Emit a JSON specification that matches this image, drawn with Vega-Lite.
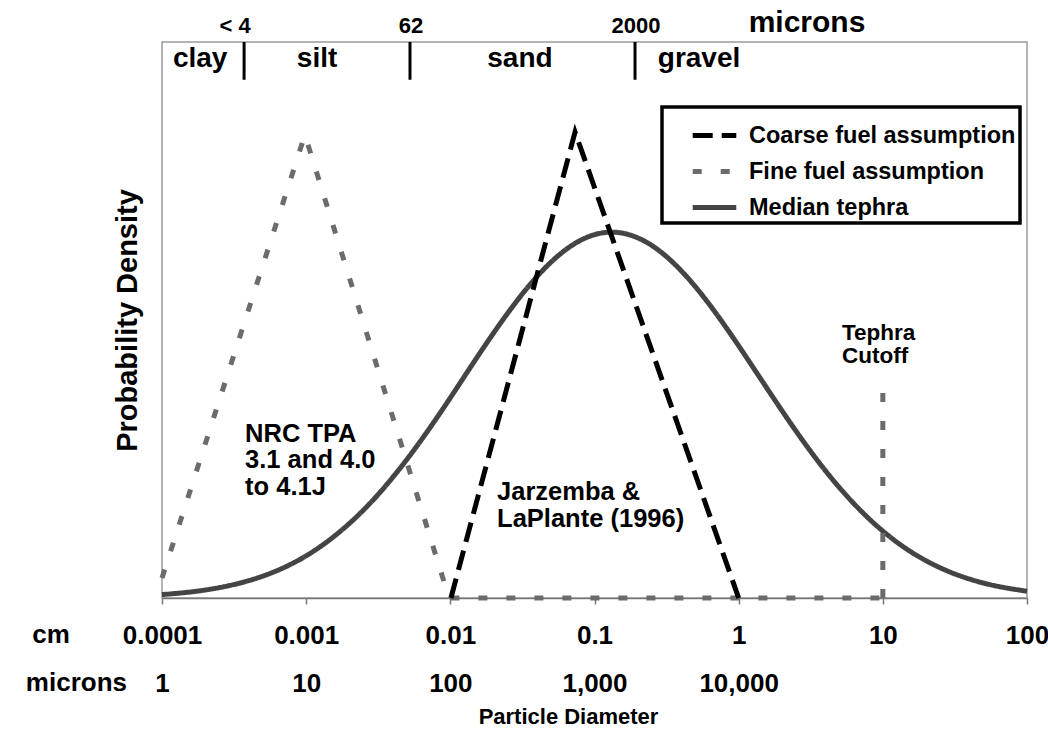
{
  "$schema": "https://vega.github.io/schema/vega-lite/v6.json",
  "width": 865,
  "height": 556,
  "autosize": "none",
  "padding": {"left": 162, "top": 42, "right": 21, "bottom": 133},
  "background": "white",
  "config": {
    "view": {"stroke": "#9a9a9a", "strokeWidth": 1.5},
    "font": "Liberation Sans",
    "legend": {"strokeWidth": 3.5}
  },
  "datasets": {
    "tephra": [
      {"series": "Median tephra", "cm": 0.0001, "density": 0.61},
      {"series": "Median tephra", "cm": 0.000158, "density": 1.09},
      {"series": "Median tephra", "cm": 0.000251, "density": 1.88},
      {"series": "Median tephra", "cm": 0.000398, "density": 3.11},
      {"series": "Median tephra", "cm": 0.000631, "density": 4.95},
      {"series": "Median tephra", "cm": 0.001, "density": 7.59},
      {"series": "Median tephra", "cm": 0.00158, "density": 11.19},
      {"series": "Median tephra", "cm": 0.00251, "density": 15.88},
      {"series": "Median tephra", "cm": 0.00398, "density": 21.68},
      {"series": "Median tephra", "cm": 0.00631, "density": 28.48},
      {"series": "Median tephra", "cm": 0.01, "density": 36.01},
      {"series": "Median tephra", "cm": 0.0158, "density": 43.81},
      {"series": "Median tephra", "cm": 0.0251, "density": 51.29},
      {"series": "Median tephra", "cm": 0.0398, "density": 57.78},
      {"series": "Median tephra", "cm": 0.0631, "density": 62.64},
      {"series": "Median tephra", "cm": 0.1, "density": 65.35},
      {"series": "Median tephra", "cm": 0.158, "density": 65.6},
      {"series": "Median tephra", "cm": 0.251, "density": 63.37},
      {"series": "Median tephra", "cm": 0.398, "density": 58.9},
      {"series": "Median tephra", "cm": 0.631, "density": 52.69},
      {"series": "Median tephra", "cm": 1.0, "density": 45.36},
      {"series": "Median tephra", "cm": 1.585, "density": 37.57},
      {"series": "Median tephra", "cm": 2.512, "density": 29.94},
      {"series": "Median tephra", "cm": 3.981, "density": 22.96},
      {"series": "Median tephra", "cm": 6.31, "density": 16.95},
      {"series": "Median tephra", "cm": 10, "density": 12.04},
      {"series": "Median tephra", "cm": 15.85, "density": 8.22},
      {"series": "Median tephra", "cm": 25.12, "density": 5.41},
      {"series": "Median tephra", "cm": 39.81, "density": 3.42},
      {"series": "Median tephra", "cm": 63.1, "density": 2.09},
      {"series": "Median tephra", "cm": 100, "density": 1.22}
    ],
    "triangles": [
      {"series": "Fine fuel assumption", "cm": 0.0001, "density": 3.6},
      {"series": "Fine fuel assumption", "cm": 0.00098, "density": 83.3},
      {"series": "Fine fuel assumption", "cm": 0.0098, "density": 0},
      {"series": "Fine fuel assumption", "cm": 10, "density": 0},
      {"series": "Coarse fuel assumption", "cm": 0.0101, "density": 0},
      {"series": "Coarse fuel assumption", "cm": 0.0733, "density": 83.8},
      {"series": "Coarse fuel assumption", "cm": 1.0, "density": 0}
    ],
    "cutoff": [
      {"cm": 10, "density": 0},
      {"cm": 10, "density": 38.8}
    ],
    "bounds": [
      {"cm": 0.000371, "lo": 93.2, "hi": 100},
      {"cm": 0.00525, "lo": 93.2, "hi": 100},
      {"cm": 0.191, "lo": 93.2, "hi": 100}
    ],
    "classes": [
      {"label": "clay", "cm": 0.000184, "density": 95.5},
      {"label": "silt", "cm": 0.00119, "density": 95.5},
      {"label": "sand", "cm": 0.0304, "density": 95.5},
      {"label": "gravel", "cm": 0.531, "density": 95.5}
    ],
    "topunit": [
      {"label": "microns", "cm": 2.98, "density": 101.8}
    ],
    "limits": [
      {"label": "< 4", "cm": 0.000321, "density": 101.6},
      {"label": "62", "cm": 0.00534, "density": 101.6},
      {"label": "2000", "cm": 0.194, "density": 101.6}
    ],
    "notes": [
      {"label": ["NRC TPA", "3.1 and 4.0", "to 4.1J"], "cm": 0.000377, "density": 28.06},
      {"label": ["Jarzemba &", "LaPlante (1996)"], "cm": 0.0211, "density": 17.6}
    ],
    "cutnote": [
      {"label": ["Tephra", "Cutoff"], "cm": 5.21, "density": 46.4}
    ],
    "units": [
      {"label": "cm", "cm": 0.000017, "density": -8.09},
      {"label": "microns", "cm": 0.0000255, "density": -16.73}
    ]
  },
  "encoding": {
    "x": {
      "field": "cm", "type": "quantitative",
      "scale": {"type": "log", "domain": [0.0001, 100], "nice": false},
      "axis": {
        "values": [0.0001, 0.001, 0.01, 0.1, 1, 10, 100],
        "labelExpr": "datum.value < 0.0005 ? ['0.0001', '1'] : datum.value < 0.005 ? ['0.001', '10'] : datum.value < 0.05 ? ['0.01', '100'] : datum.value < 0.5 ? ['0.1', '1,000'] : datum.value < 5 ? ['1', '10,000'] : datum.value < 50 ? ['10', ''] : ['100', '']",
        "labelFont": "Liberation Sans",
        "labelFontSize": 26,
        "labelFontWeight": "bold",
        "labelColor": "black",
        "labelPadding": 18,
        "labelLineHeight": 48,
        "labelOverlap": false,
        "labelFlush": false,
        "tickSize": 6,
        "tickColor": "#777",
        "tickWidth": 1.5,
        "domainColor": "#777",
        "domainWidth": 1.5,
        "grid": false,
        "title": "Particle Diameter",
        "titleFont": "Liberation Sans",
        "titleFontSize": 22,
        "titleFontWeight": "bold",
        "titleColor": "black",
        "titleX": 406,
        "titleY": 108,
        "titleBaseline": "top"
      }
    },
    "y": {
      "field": "density", "type": "quantitative",
      "scale": {"domain": [0, 100], "nice": false, "zero": false},
      "axis": {
        "title": "Probability Density",
        "titleFont": "Liberation Sans",
        "titleFontSize": 29,
        "titleFontWeight": "bold",
        "titleColor": "black",
        "titlePadding": 20,
        "labels": false,
        "ticks": false,
        "domain": false,
        "grid": false
      }
    },
    "color": {
      "field": "series", "type": "nominal",
      "scale": {"domain": ["Coarse fuel assumption", "Fine fuel assumption", "Median tephra"], "range": ["#000000", "#6b6b6b", "#444444"]},
      "legend": {
        "title": null,
        "orient": "none",
        "legendX": 500,
        "legendY": 65,
        "padding": 4,
        "strokeColor": "black",
        "fillColor": "white",
        "symbolType": "stroke",
        "symbolSize": 1900,
        "symbolStrokeWidth": 5,
        "symbolOffset": 24,
        "labelFont": "Liberation Sans",
        "labelFontSize": 23.5,
        "labelFontWeight": "bold",
        "labelColor": "black",
        "labelOffset": 10,
        "labelLimit": 400,
        "rowPadding": 0
      }
    },
    "strokeDash": {
      "field": "series", "type": "nominal",
      "scale": {"domain": ["Coarse fuel assumption", "Fine fuel assumption", "Median tephra"], "range": [[20, 9], [9, 19], [1, 0]]},
      "legend": {
        "title": null,
        "orient": "none",
        "legendX": 500,
        "legendY": 65,
        "padding": 4,
        "strokeColor": "black",
        "fillColor": "white",
        "symbolType": "stroke",
        "symbolSize": 1900,
        "symbolStrokeWidth": 5,
        "symbolOffset": 24,
        "labelFont": "Liberation Sans",
        "labelFontSize": 23.5,
        "labelFontWeight": "bold",
        "labelColor": "black",
        "labelOffset": 10,
        "labelLimit": 400,
        "rowPadding": 0
      }
    }
  },
  "layer": [
    {
      "data": {"name": "tephra"},
      "mark": {"type": "line", "strokeWidth": 5, "interpolate": "natural", "clip": false}
    },
    {
      "data": {"name": "triangles"},
      "mark": {"type": "line", "strokeWidth": 5, "clip": false}
    },
    {
      "data": {"name": "cutoff"},
      "mark": {"type": "line", "strokeWidth": 5, "color": "#6b6b6b", "strokeDash": [9, 19]},
      "encoding": {"color": {"value": "#6b6b6b"}, "strokeDash": {"value": [9, 19]}}
    },
    {
      "data": {"name": "bounds"},
      "mark": {"type": "rule", "strokeWidth": 3, "color": "black"},
      "encoding": {
        "y": {"field": "lo", "type": "quantitative"},
        "y2": {"field": "hi"},
        "color": {"value": "black"},
        "strokeDash": {"value": [1, 0]}
      }
    },
    {
      "data": {"name": "classes"},
      "mark": {"type": "text", "font": "Liberation Sans", "fontSize": 28, "fontWeight": "bold", "align": "center", "baseline": "alphabetic"},
      "encoding": {"text": {"field": "label"}, "color": {"value": "black"}, "strokeDash": {"value": null}}
    },
    {
      "data": {"name": "topunit"},
      "mark": {"type": "text", "font": "Liberation Sans", "fontSize": 30, "fontWeight": "bold", "align": "center", "baseline": "alphabetic"},
      "encoding": {"text": {"field": "label"}, "color": {"value": "black"}, "strokeDash": {"value": null}}
    },
    {
      "data": {"name": "limits"},
      "mark": {"type": "text", "font": "Liberation Sans", "fontSize": 22, "fontWeight": "bold", "align": "center", "baseline": "alphabetic"},
      "encoding": {"text": {"field": "label"}, "color": {"value": "black"}, "strokeDash": {"value": null}}
    },
    {
      "data": {"name": "notes"},
      "mark": {"type": "text", "font": "Liberation Sans", "fontSize": 25.5, "fontWeight": "bold", "align": "left", "baseline": "alphabetic", "lineHeight": 26.5},
      "encoding": {"text": {"field": "label"}, "color": {"value": "black"}, "strokeDash": {"value": null}}
    },
    {
      "data": {"name": "cutnote"},
      "mark": {"type": "text", "font": "Liberation Sans", "fontSize": 22.5, "fontWeight": "bold", "align": "left", "baseline": "alphabetic", "lineHeight": 23},
      "encoding": {"text": {"field": "label"}, "color": {"value": "black"}, "strokeDash": {"value": null}}
    },
    {
      "data": {"name": "units"},
      "mark": {"type": "text", "font": "Liberation Sans", "fontSize": 26, "fontWeight": "bold", "align": "center", "baseline": "alphabetic"},
      "encoding": {"text": {"field": "label"}, "color": {"value": "black"}, "strokeDash": {"value": null}}
    }
  ]
}
